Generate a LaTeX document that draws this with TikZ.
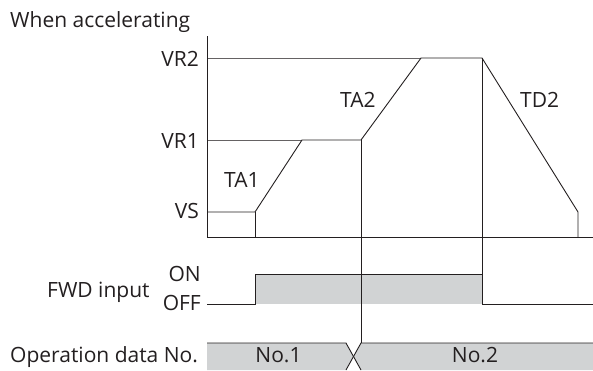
\documentclass[tikz,border=0pt]{standalone}
\usepackage{fontspec}
\setmainfont{Open Sans}
\usepackage{tikz}
\usetikzlibrary{calc}
\usepackage{xcolor}
\definecolor{chartGray}{HTML}{D1D3D4}
\definecolor{inkBlack}{HTML}{231F20}

\begin{document}
\begin{tikzpicture}[
  x=1pt, y=-1pt,
  font=\fontsize{21}{24}\selectfont,
  sigline/.style={
    draw=inkBlack,
    line width=0.9pt,
    line join=miter
  },
  refline/.style={
    draw=inkBlack!70,
    line width=0.7pt
  },
  axislabel/.style={
    inner sep=0pt,
    text=inkBlack,
    anchor=base east
  },
  ramplabel/.style={
    inner sep=0pt,
    text=inkBlack,
    anchor=base west
  },
  rowlabel/.style={
    inner sep=0pt,
    text=inkBlack,
    anchor=base west
  },
  datalabel/.style={
    inner sep=0pt,
    text=inkBlack,
    anchor=base
  }
]
  \useasboundingbox (0,0) rectangle (593,370);

  % ----------------------------------------------------
  % SPEED PROFILE
  % ----------------------------------------------------
  \node[rowlabel] (title) at (10,27) {When accelerating};

  \coordinate (ax_top) at (207,36);
  \coordinate (ax_org) at (207,237);
  \coordinate (ax_end) at (593,237);

  \coordinate (vs_on)   at (255,212);
  \coordinate (vr1_in)  at (302,140);
  \coordinate (vr1_out) at (361,140);
  \coordinate (vr2_in)  at (421,58);
  \coordinate (vr2_out) at (482,58);
  \coordinate (td2_end) at (578,212);

  \node[axislabel] (lbl_vr2) at (199,66) {VR2};
  \node[axislabel] (lbl_vr1) at (199,148) {VR1};
  \node[axislabel] (lbl_vs)  at (199,218) {VS};

  \draw[refline] (ax_top |- vr2_in) -- (vr2_in);
  \draw[refline] (ax_top |- vr1_in) -- (vr1_in);
  \draw[sigline] (ax_top) -- (ax_org) -- (ax_end);
  \draw[sigline] (ax_top |- vs_on) -- (vs_on) -- (vr1_in) -- (vr1_out)
    -- (vr2_in) -- (vr2_out) -- (td2_end) -- (td2_end |- ax_org);
  \draw[sigline] (vs_on) -- (vs_on |- ax_org);

  \node[ramplabel] (lbl_ta1) at (224,187) {TA1};
  \node[ramplabel] (lbl_ta2) at (340,107) {TA2};
  \node[ramplabel] (lbl_td2) at (520,107) {TD2};

  % ----------------------------------------------------
  % FWD INPUT
  % ----------------------------------------------------
  \coordinate (fwd_off) at (207,304);
  \coordinate (fwd_up)  at (255,304);
  \coordinate (fwd_on)  at (255,274);
  \coordinate (fwd_dn)  at (482,274);
  \coordinate (fwd_end) at (593,304);

  \node[rowlabel] (lbl_fwd) at (47,297) {FWD input};
  \node[axislabel] (lbl_on)  at (201,281) {ON};
  \node[axislabel] (lbl_off) at (201,310) {OFF};

  \fill[chartGray] (fwd_on) rectangle (fwd_dn |- fwd_off);
  \draw[sigline] (fwd_off) -- (fwd_up) -- (fwd_on) -- (fwd_dn)
    -- (fwd_dn |- fwd_off) -- (fwd_end);

  % ----------------------------------------------------
  % OPERATION DATA No.
  % ----------------------------------------------------
  \coordinate (op_left)  at (207,343);
  \coordinate (op_x1)    at (346,343);
  \coordinate (op_x2)    at (361,343);
  \coordinate (op_right) at (593,343);
  \coordinate (op_mid)   at (353.5,356.5);

  \node[rowlabel] (lbl_op) at (10,362) {Operation data No.};

  \fill[chartGray] (op_left) -- (op_x1) -- (op_mid) -- (op_x1 |- 0,370)
    -- (op_left |- 0,370) -- cycle;
  \fill[chartGray] (op_x2) -- (op_right) -- (op_right |- 0,370)
    -- (op_x2 |- 0,370) -- (op_mid) -- cycle;
  \draw[sigline] (op_left) -- (op_x1) -- (op_x2 |- 0,370);
  \draw[sigline] (op_right) -- (op_x2) -- (op_x1 |- 0,370);

  \node[datalabel] (lbl_no1) at (278.5,362) {No.1};
  \node[datalabel] (lbl_no2) at (475,362) {No.2};

  % Timing marks (vertical cross-references)
  \draw[sigline] (vr1_out) -- (op_x2);
  \draw[sigline] (vr2_out) -- (fwd_dn |- fwd_off);

\end{tikzpicture}
\end{document}
